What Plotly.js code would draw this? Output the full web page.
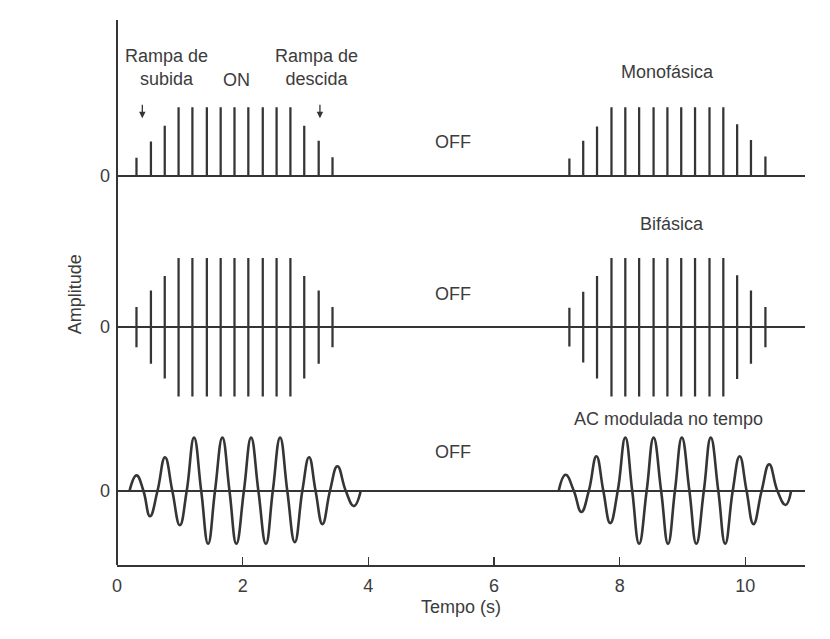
<!DOCTYPE html>
<html>
<head>
<meta charset="utf-8">
<script src="https://cdn.plot.ly/plotly-3.0.1.min.js"></script>
<style>html,body{margin:0;padding:0;background:#fff}#chart{width:830px;height:639px}</style>
</head>
<body>
<div id="chart"></div>
<script>
// Pulse times (s)
const pulseTimesOn1 = [0.31, 0.54, 0.76, 0.98, 1.20, 1.43, 1.65, 1.87, 2.09, 2.32, 2.54, 2.76, 2.98, 3.21, 3.43];
const pulseTimesOn2 = [7.20, 7.42, 7.64, 7.87, 8.09, 8.31, 8.54, 8.76, 8.98, 9.20, 9.43, 9.65, 9.87, 10.09, 10.32];
// Relative pulse amplitudes (ramp up, ON, ramp down)
const monoAmp1 = [0.26, 0.50, 0.73, 1, 1, 1, 1, 1, 1, 1, 1, 1, 0.73, 0.51, 0.27];
const monoAmp2 = [0.25, 0.51, 0.72, 1, 1, 1, 1, 1, 1, 1, 1, 1, 0.75, 0.52, 0.28];
const biAmp1 = [0.29, 0.53, 0.74, 1, 1, 1, 1, 1, 1, 1, 1, 1, 0.74, 0.53, 0.29];
const biAmp2 = [0.28, 0.51, 0.74, 1, 1, 1, 1, 1, 1, 1, 1, 1, 0.75, 0.53, 0.29];
// AC modulated wave: start, peaks and zero crossings
const acTime1 = [0.20, 0.31, 0.42, 0.525, 0.645, 0.764, 0.88, 1.00, 1.11, 1.226, 1.34, 1.45, 1.56, 1.677, 1.79, 1.90, 2.02, 2.134, 2.25, 2.37, 2.48, 2.596, 2.71, 2.83, 2.95, 3.057, 3.16, 3.27, 3.39, 3.508, 3.64, 3.77, 3.88];
const acValue1 = [0, 0.29, 0, -0.48, 0, 0.63, 0, -0.65, 0, 1, 0, -1, 0, 1, 0, -1, 0, 1, 0, -1, 0, 1, 0, -0.97, 0, 0.63, 0, -0.63, 0, 0.46, 0, -0.29, 0];
const acTime2 = [7.03, 7.14, 7.27, 7.39, 7.51, 7.63, 7.74, 7.85, 7.97, 8.09, 8.20, 8.31, 8.43, 8.54, 8.66, 8.77, 8.88, 8.99, 9.11, 9.22, 9.34, 9.45, 9.57, 9.68, 9.80, 9.91, 10.02, 10.13, 10.26, 10.38, 10.51, 10.64, 10.73];
const acValue2 = [0, 0.3, 0, -0.4, 0, 0.65, 0, -0.61, 0, 1, 0, -1, 0, 1, 0, -1, 0, 1, 0, -1, 0, 1, 0, -1, 0, 0.65, 0, -0.63, 0, 0.5, 0, -0.27, 0];
// Tick labels
const xTicks = [0, 2, 4, 6, 8, 10];
const xTickText = ['0', '2', '4', '6', '8', '10'];

const INK = '#353535';
const TXT = '#3c3c3c';
const FONT = 'Liberation Sans, Arial, sans-serif';
const FS = 18;
const barW = 0.036;

const monoBar = (t, a) => ({type: 'bar', x: t, y: a, width: barW, xaxis: 'x', yaxis: 'y',
  marker: {color: INK, line: {width: 0}}, hoverinfo: 'skip', showlegend: false});
const biBar = (t, a) => ({type: 'bar', x: t, y: a.map(v => 2 * v), base: a.map(v => -v), width: barW,
  xaxis: 'x', yaxis: 'y2', marker: {color: INK, line: {width: 0}}, hoverinfo: 'skip', showlegend: false});
const acLine = (t, v) => ({type: 'scatter', mode: 'lines', x: t, y: v, xaxis: 'x', yaxis: 'y3',
  line: {color: INK, width: 2.6, shape: 'spline', smoothing: 1.3}, hoverinfo: 'skip', showlegend: false});

const data = [
  monoBar(pulseTimesOn1, monoAmp1), monoBar(pulseTimesOn2, monoAmp2),
  biBar(pulseTimesOn1, biAmp1), biBar(pulseTimesOn2, biAmp2),
  acLine(acTime1, acValue1), acLine(acTime2, acValue2)
];

const yCommon = {
  anchor: 'x', showgrid: false, showline: false, zeroline: true, zerolinecolor: INK, zerolinewidth: 2,
  tickvals: [0], ticktext: ['0'], ticks: '', ticklabelstandoff: 6,
  tickfont: {family: FONT, size: FS, color: TXT}, fixedrange: true
};

const txt = (text, x, y, extra) => Object.assign({text: text, x: x, y: y, xref: 'x', yref: 'paper',
  showarrow: false, xanchor: 'center', yanchor: 'middle', font: {family: FONT, size: FS, color: TXT}}, extra || {});

const layout = {
  width: 830, height: 639,
  margin: {l: 117, r: 25, t: 20, b: 74},
  paper_bgcolor: '#ffffff', plot_bgcolor: 'rgba(0,0,0,0)',
  barmode: 'overlay',
  xaxis: {
    anchor: 'y3', range: [0, 10.95], showgrid: false, zeroline: false,
    showline: true, linecolor: INK, linewidth: 2,
    tickvals: xTicks, ticktext: xTickText, ticks: 'inside', ticklen: 8, tickwidth: 1.5, tickcolor: INK,
    ticklabelstandoff: 3,
    tickfont: {family: FONT, size: FS, color: TXT},
    title: {text: 'Tempo (s)', font: {family: FONT, size: FS, color: TXT}, standoff: 6},
    fixedrange: true
  },
  yaxis: Object.assign({}, yCommon, {domain: [0.6961, 0.8619], range: [-0.147, 1.176]}),
  yaxis2: Object.assign({}, yCommon, {domain: [0.2799, 0.5930], range: [-1.232, 1.232]}),
  yaxis3: Object.assign({}, yCommon, {domain: [0, 0.2726], range: [-1.4, 1.4]}),
  shapes: [
    {type: 'line', xref: 'paper', yref: 'paper', x0: 0, x1: 0, y0: 0, y1: 1, line: {color: INK, width: 2}}
  ],
  annotations: [
    txt('Rampa de<br>subida', 0.79, 0.913),
    txt('ON', 1.906, 0.890),
    txt('Rampa de<br>descida', 3.18, 0.913),
    {text: '', x: 0.403, y: 0.8195, xref: 'x', yref: 'paper', showarrow: true, ax: 0, ay: -15,
      arrowhead: 2, arrowsize: 1, arrowwidth: 1.3, arrowcolor: INK},
    {text: '', x: 3.23, y: 0.8195, xref: 'x', yref: 'paper', showarrow: true, ax: 0, ay: -15,
      arrowhead: 2, arrowsize: 1, arrowwidth: 1.3, arrowcolor: INK},
    txt('OFF', 5.35, 0.777),
    txt('OFF', 5.35, 0.497),
    txt('OFF', 5.35, 0.208),
    txt('Monofásica', 8.76, 0.904),
    txt('Bifásica', 8.84, 0.626),
    txt('AC modulada no tempo', 8.77, 0.267),
    {text: 'Amplitude', xref: 'paper', yref: 'paper', x: -0.061, y: 0.497, textangle: -90,
      showarrow: false, xanchor: 'center', yanchor: 'middle', font: {family: FONT, size: FS, color: TXT}}
  ]
};

Plotly.newPlot('chart', data, layout, {displayModeBar: false, staticPlot: true});
</script>
</body>
</html>
